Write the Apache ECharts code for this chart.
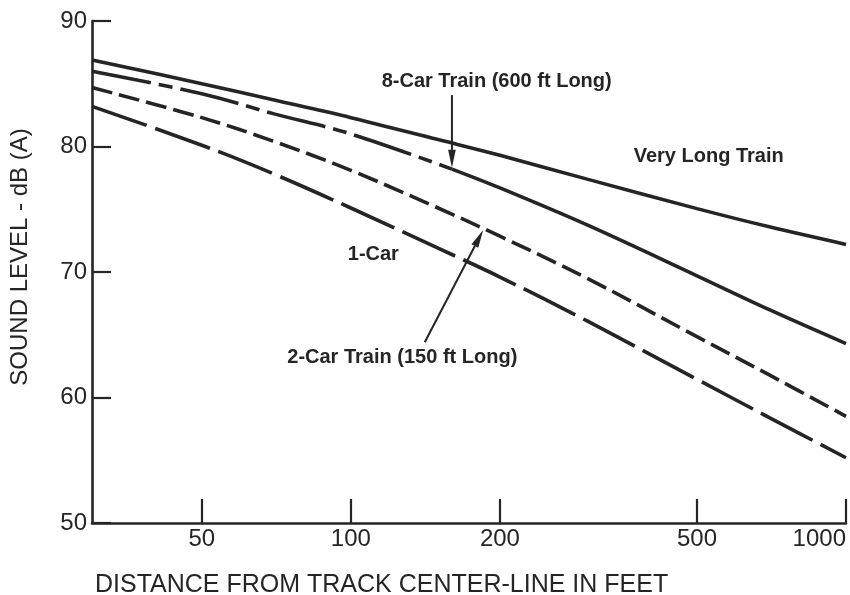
<!DOCTYPE html>
<html><head><meta charset="utf-8">
<script src="https://cdn.jsdelivr.net/npm/echarts@6/dist/echarts.min.js"></script>
<style>html,body{margin:0;padding:0;background:#fff}#c{width:850px;height:595px}</style>
</head><body><div id="c"></div><script>
// ---- data (distance in feet, sound level in dB(A)) ----
const distances = [30, 50, 70, 100, 150, 200, 300, 500, 700, 1000];
const veryLongTrain = [86.9, 85.0, 83.7, 82.3, 80.55, 79.3, 77.4, 75.05, 73.6, 72.2];
const twoCarTrain = [84.7, 82.3, 80.4, 78.1, 75.1, 72.85, 69.5, 64.85, 61.8, 58.5];
const oneCar = [83.2, 80.1, 77.8, 75.1, 71.9, 69.6, 66.1, 61.45, 58.4, 55.2];
const eightCarDistances = [30, 50, 70, 100, 160, 200, 300, 500, 700, 1000];
const eightCarTrain = [86.0, 84.2, 82.6, 81.0, 78.2, 76.7, 73.75, 69.7, 67.0, 64.3];
const eightCarSolidFrom = 160;
const xTickValues = [50, 100, 200, 500, 1000];
const xMin = 30, xMax = 1000;
const yMin = 50, yMax = 90, yStep = 10;
const labels = ['8-Car Train (600 ft Long)', 'Very Long Train', '1-Car', '2-Car Train (150 ft Long)'];
const xTitle = 'DISTANCE FROM TRACK CENTER-LINE IN FEET';
const yTitle = 'SOUND LEVEL - dB (A)';

// ---- layout / style (not data) ----
const labelAnchors = [[197, 85.2], [528, 79.2], [111, 71.4], [127, 63.2]];
const arrows = [[[160, 84.1], [160, 78.3]], [[141, 64.4], [185, 73.35]]];
const INK = '#252525';
const FONT = '"Liberation Sans", Arial, sans-serif';
const lg = Math.log10;

function pts(xs, ys, keep) {
  const out = [];
  xs.forEach((d, i) => { if (!keep || keep(d)) out.push([lg(d), ys[i]]); });
  return out;
}
function lineSeries(data, type) {
  return {
    type: 'line', data, showSymbol: false, symbol: 'none', smooth: 0.35,
    silent: true, animation: false,
    lineStyle: { color: INK, width: 3.6, type: type || 'solid' }
  };
}

const chart = echarts.init(document.getElementById('c'), null, { renderer: 'canvas' });
chart.setOption({
  animation: false,
  backgroundColor: '#fff',
  grid: { left: 92, right: 4, top: 21, bottom: 72, containLabel: false },
  xAxis: {
    type: 'value', min: lg(xMin), max: lg(xMax),
    axisLine: { show: true, lineStyle: { color: INK, width: 2.6 } },
    axisTick: { show: true, inside: true, length: 24, lineStyle: { color: INK, width: 2.2 },
      customValues: xTickValues.map(lg) },
    axisLabel: { show: true, customValues: xTickValues.map(lg), margin: 4,
      formatter: v => String(Math.round(Math.pow(10, v))),
      fontFamily: FONT, fontSize: 24, color: INK, alignMaxLabel: 'right' },
    splitLine: { show: false }
  },
  yAxis: {
    type: 'value', min: yMin, max: yMax, interval: yStep,
    axisLine: { show: true, lineStyle: { color: INK, width: 2.6 } },
    axisTick: { show: true, inside: true, length: 19, lineStyle: { color: INK, width: 2.2 } },
    axisLabel: { margin: 5, fontFamily: FONT, fontSize: 24, color: INK },
    splitLine: { show: false }
  },
  series: [
    lineSeries(pts(distances, veryLongTrain)),
    lineSeries(pts(eightCarDistances, eightCarTrain, d => d <= eightCarSolidFrom), [60, 8, 14, 8]),
    lineSeries(pts(eightCarDistances, eightCarTrain, d => d >= eightCarSolidFrom)),
    lineSeries(pts(distances, twoCarTrain), [21, 7]),
    lineSeries(pts(distances, oneCar), [58, 9])
  ]
});

function px(p) { return chart.convertToPixel({ gridIndex: 0 }, [lg(p[0]), p[1]]); }
const graphics = [];
labels.forEach((t, i) => {
  const p = px(labelAnchors[i]);
  graphics.push({ type: 'text', x: p[0], y: p[1], silent: true,
    style: { text: t, font: 'bold 20px ' + FONT, fill: INK, align: 'center', verticalAlign: 'middle' } });
});
arrows.forEach(a => {
  const s = px(a[0]), e = px(a[1]);
  const dx = e[0] - s[0], dy = e[1] - s[1], L = Math.hypot(dx, dy);
  const ux = dx / L, uy = dy / L, head = 18, hw = 3.8;
  const bx = e[0] - ux * head, by = e[1] - uy * head;
  graphics.push({ type: 'line', silent: true,
    shape: { x1: s[0], y1: s[1], x2: bx, y2: by }, style: { stroke: INK, lineWidth: 2 } });
  graphics.push({ type: 'polygon', silent: true,
    shape: { points: [[e[0], e[1]], [bx - uy * hw, by + ux * hw], [bx + uy * hw, by - ux * hw]] },
    style: { fill: INK } });
});
graphics.push({ type: 'text', x: 95, y: 585, silent: true,
  style: { text: xTitle, font: '25px ' + FONT, fill: INK, align: 'left', verticalAlign: 'middle' } });
graphics.push({ type: 'text', x: 20, y: 257, rotation: Math.PI / 2, silent: true,
  style: { text: yTitle, font: '24px ' + FONT, fill: INK, align: 'center', verticalAlign: 'middle' } });
chart.setOption({ graphic: graphics });
</script></body></html>
